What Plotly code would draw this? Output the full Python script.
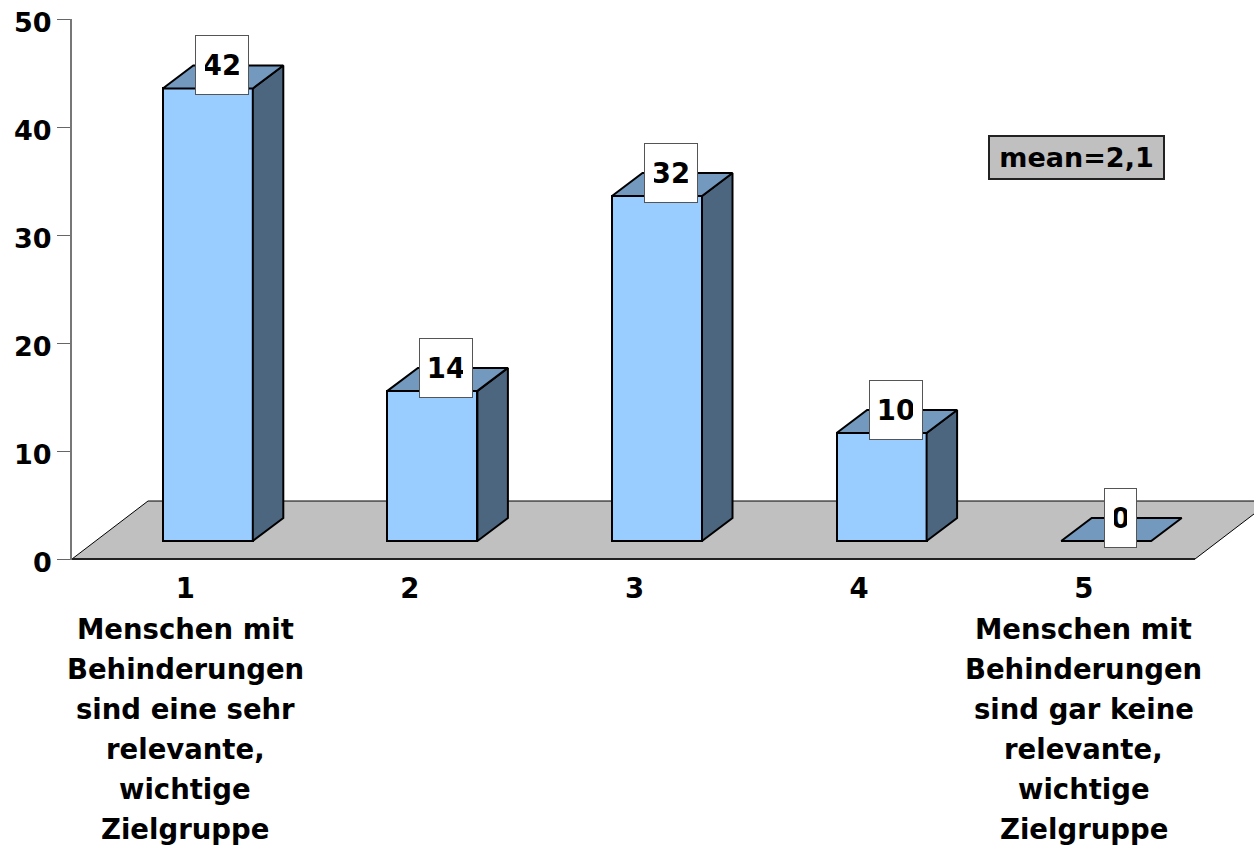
import plotly.graph_objects as go

categories = [1, 2, 3, 4, 5]
values = [41.9, 13.9, 31.95, 10, 0]
value_labels = ["42", "14", "32", "10", "0"]
y_ticks = [0, 10, 20, 30, 40, 50]
left_label = ["Menschen mit", "Behinderungen", "sind eine sehr", "relevante,", "wichtige", "Zielgruppe"]
right_label = ["Menschen mit", "Behinderungen", "sind gar keine", "relevante,", "wichtige", "Zielgruppe"]
mean_text = "mean=2,1"

FONT = "DejaVu Sans"
BOLD = dict(family=FONT, size=27.5, color="#000000", weight="bold")
BOLD_S = dict(family=FONT, size=27, color="#000000", weight="bold")

# plot-area geometry
W, H = 1254, 849
L, T, B = 72, 19, 559
PAD = 1                     # room below zero so the floor's front edge is not clipped
PX_X = (1195 - 72) / 5      # pixels per category
PX_Y = (B - T) / 50         # pixels per value unit
x0, x1 = 0.5, 0.5 + (W - L) / PX_X

# pseudo-3D offsets in data units
def ux(px): return px / PX_X
def uy(px): return px / PX_Y

BASE = uy(18)               # bars stand this high above the front edge
SHIFT = ux(23.5)
HALF = ux(45)
DX, DY = ux(30.5), uy(23)
FLOOR_DX, FLOOR_DY = ux(76), uy(58)

top_x, top_y, side_x, side_y = [], [], [], []
for c, v in zip(categories, values):
    l, r = c + SHIFT - HALF, c + SHIFT + HALF
    t = BASE + v
    top_x += [l, r, r + DX, l + DX, l, None]
    top_y += [t, t, t + DY, t + DY, t, None]
    if v > 0:
        side_x += [r, r + DX, r + DX, r, r, None]
        side_y += [BASE, BASE + DY, t + DY, t, BASE, None]

fig = go.Figure()
fig.add_trace(go.Bar(
    x=[c + SHIFT for c in categories], y=values, base=BASE, width=2 * HALF,
    marker=dict(color="#99CCFF", line=dict(color="#000000", width=2)),
    hoverinfo="skip", showlegend=False))
fig.add_trace(go.Scatter(x=side_x, y=side_y, mode="lines", fill="toself", fillcolor="#4D6680",
                         line=dict(color="#000000", width=2), hoverinfo="skip", showlegend=False))
fig.add_trace(go.Scatter(x=top_x, y=top_y, mode="lines", fill="toself", fillcolor="#7399BF",
                         line=dict(color="#000000", width=2), hoverinfo="skip", showlegend=False))
# front edge of the floor
fig.add_trace(go.Scatter(x=[x0, x0 + len(categories)], y=[0, 0], mode="lines",
                         line=dict(color="#222222", width=2), hoverinfo="skip", showlegend=False))

floor_path = (f"M {x0} 0 L {x0 + FLOOR_DX} {FLOOR_DY} L {x0 + 5 + FLOOR_DX} {FLOOR_DY} "
              f"L {x0 + 5} 0 Z")
shapes = [dict(type="path", path=floor_path, xref="x", yref="y", layer="below",
               fillcolor="#C0C0C0", line=dict(color="#000000", width=1))]

annotations = []
for c, v, lab in zip(categories, values, value_labels):
    annotations.append(dict(
        x=c + SHIFT + ux(14), y=BASE + v + uy(23), xref="x", yref="y",
        text=lab, showarrow=False, font=BOLD, xanchor="center", yanchor="middle",
        bgcolor="#FFFFFF", bordercolor="#555555", borderwidth=1, borderpad=9,
        width=34 if len(lab) == 2 else 13, height=39.5))

LINE_FIRST, LINE_STEP = 629 - B, 40
for cat, lines in ((categories[0], left_label), (categories[-1], right_label)):
    for i, txt in enumerate(lines):
        annotations.append(dict(
            x=cat, y=0, xref="x", yref="y", xshift=1, yshift=-(LINE_FIRST + i * LINE_STEP),
            text=txt, showarrow=False, font=BOLD, xanchor="center", yanchor="middle"))

for t in y_ticks:
    annotations.append(dict(
        x=0, y=t, xref="paper", yref="y", xshift=-18, yshift=-3,
        text=str(t), showarrow=False, font=BOLD_S, xanchor="right", yanchor="middle"))

plot_h = B + PAD - T
annotations.append(dict(
    x=(1076.5 - L) / (W - L), y=(B + PAD - 157) / plot_h, xref="paper", yref="paper",
    text=mean_text, showarrow=False, font=BOLD_S, xanchor="center", yanchor="middle",
    bgcolor="#C0C0C0", bordercolor="#222222", borderwidth=2, borderpad=0,
    width=173, height=41))

fig.update_layout(
    width=W, height=H, autosize=False,
    margin=dict(l=L, r=0, t=T, b=H - B - PAD, pad=0),
    paper_bgcolor="#FFFFFF", plot_bgcolor="rgba(0,0,0,0)",
    shapes=shapes, annotations=annotations, bargap=0,
    font=dict(family=FONT),
    xaxis=dict(range=[x0, x1], tickmode="array", tickvals=[c + ux(1) for c in categories],
               ticktext=[str(c) for c in categories], tickfont=BOLD,
               showgrid=False, zeroline=False, showline=False, ticks="", ticklabelstandoff=9),
    yaxis=dict(range=[-uy(PAD), 50], tickmode="array", tickvals=y_ticks, showticklabels=False,
               showgrid=False, zeroline=False, showline=True, linecolor="#777777", linewidth=2,
               ticks="outside", ticklen=13, tickcolor="#666666", tickwidth=1),
)

fig.write_html("out.html", config={"displayModeBar": False},
               post_script="document.body.style.margin='0';document.body.style.overflow='hidden';")
